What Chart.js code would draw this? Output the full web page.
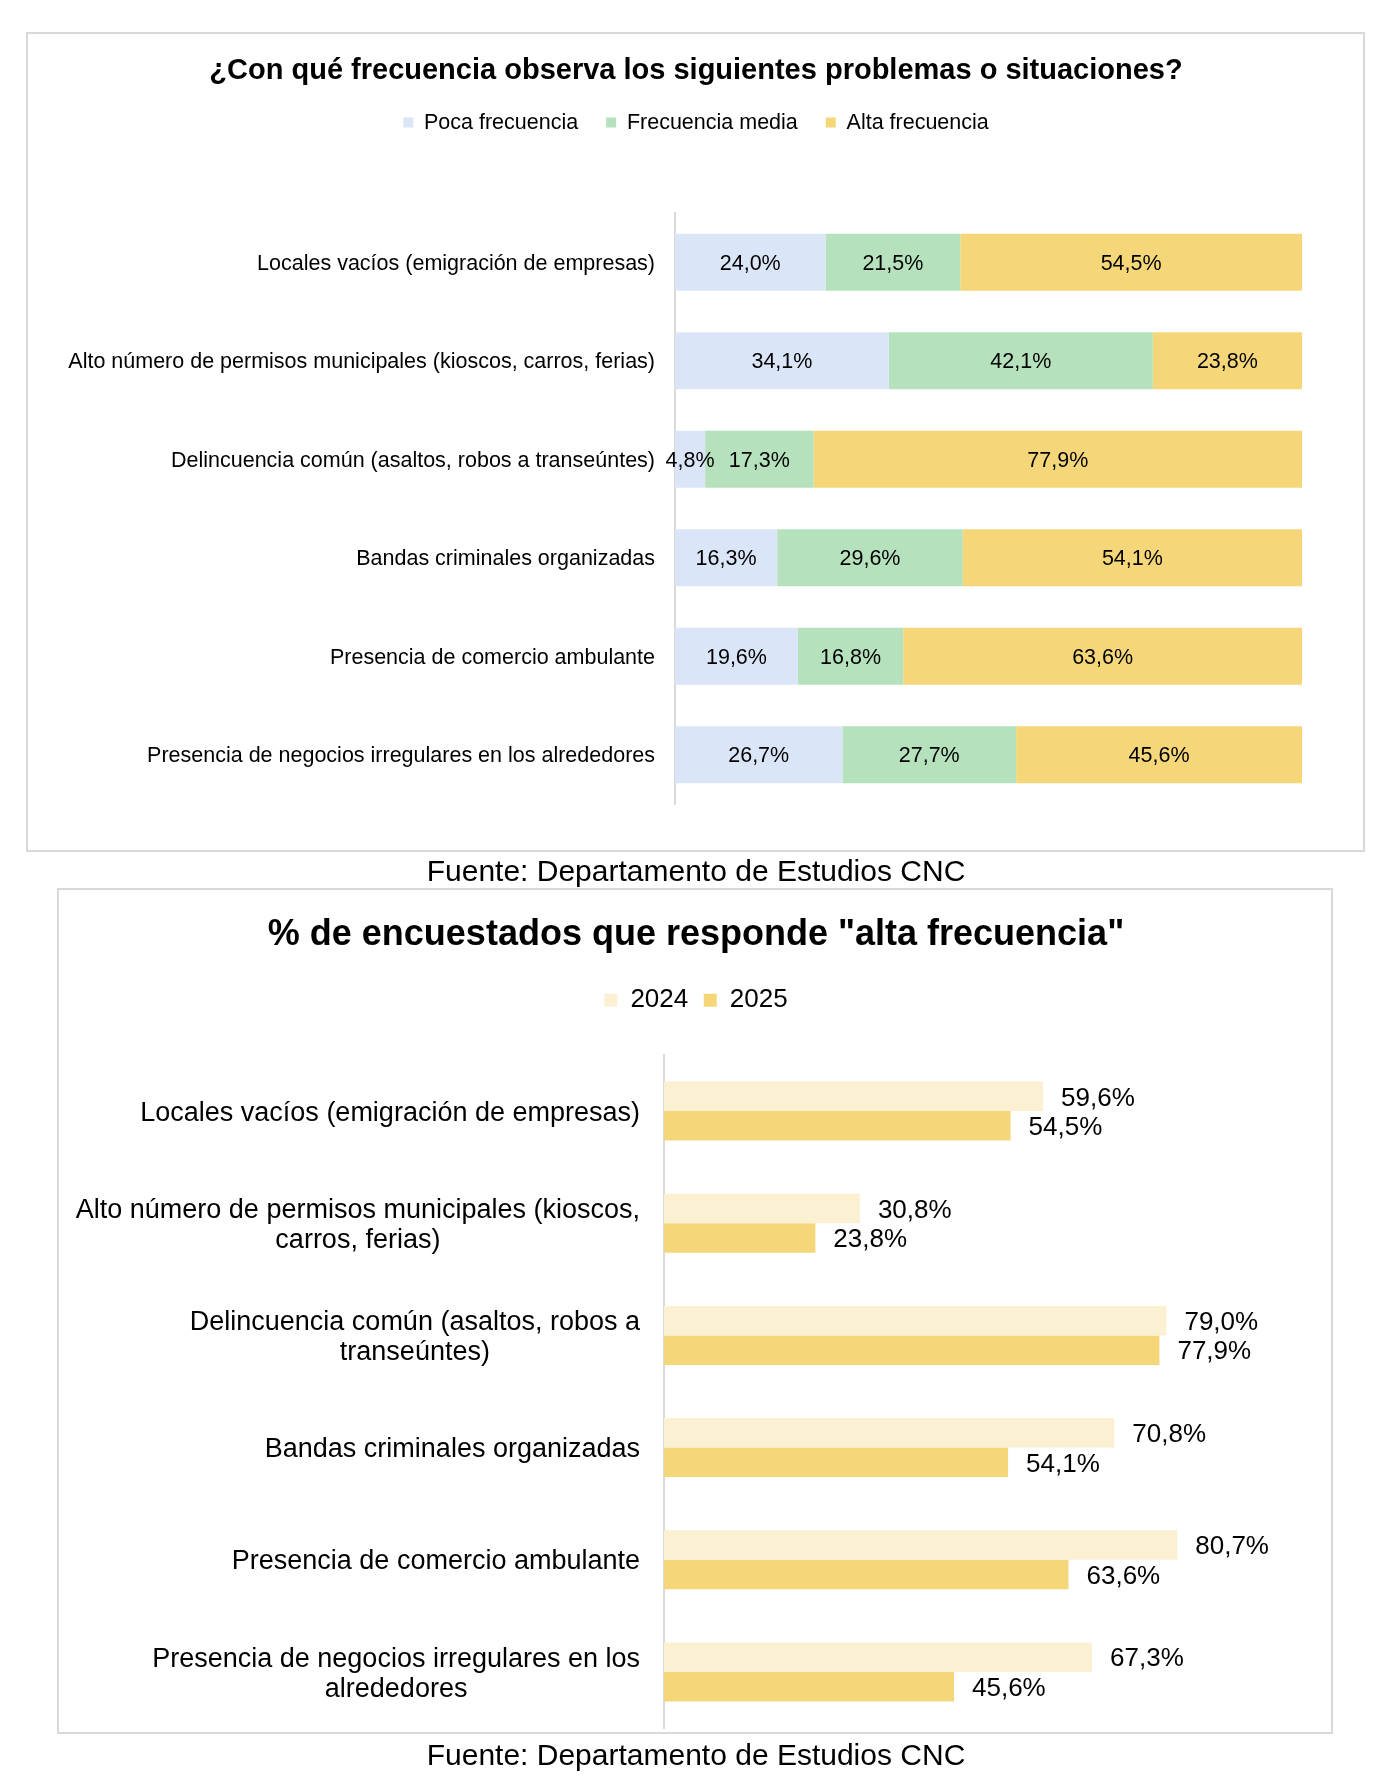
<!DOCTYPE html>
<html>
<head>
<meta charset="utf-8">
<script src="https://cdn.jsdelivr.net/npm/chart.js@4.4.1/dist/chart.umd.min.js"></script>
<style>
    body { margin: 0; background: #fff; font-family: "Liberation Sans", Arial, sans-serif; }
    .page { position: relative; width: 1392px; height: 1788px; overflow: hidden; }
    .box { position: absolute; box-sizing: border-box; border: 2px solid #d9d9d9; }
    .source { position: absolute; left: 0; width: 1392px; text-align: center; font-size: 30px; line-height: 30px; color: #000; }
    canvas { position: absolute; left: 0; }
</style>
</head>
<body>
<div class="page">
    <div class="box" style="left:26px; top:32px; width:1339px; height:820px;"></div>
    <div class="box" style="left:57px; top:888px; width:1276px; height:846px;"></div>
    <canvas id="freqChart" width="1392" height="856" style="top:0px;"></canvas>
    <div class="source" style="top:856px;">Fuente: Departamento de Estudios CNC</div>
    <canvas id="altaChart" width="1392" height="902" style="top:886px;"></canvas>
    <div class="source" style="top:1740px;">Fuente: Departamento de Estudios CNC</div>
</div>
<script>
//Data
const problems = [
    "Locales vacíos (emigración de empresas)",
    "Alto número de permisos municipales (kioscos, carros, ferias)",
    "Delincuencia común (asaltos, robos a transeúntes)",
    "Bandas criminales organizadas",
    "Presencia de comercio ambulante",
    "Presencia de negocios irregulares en los alrededores",
];
const problemsWrapped = [
    ["Locales vacíos (emigración de empresas)"],
    ["Alto número de permisos municipales (kioscos,", "carros, ferias)"],
    ["Delincuencia común (asaltos, robos a", "transeúntes)"],
    ["Bandas criminales organizadas"],
    ["Presencia de comercio ambulante"],
    ["Presencia de negocios irregulares en los", "alrededores"],
];
const pocaFrecuencia = [24.0, 34.1, 4.8, 16.3, 19.6, 26.7];
const frecuenciaMedia = [21.5, 42.1, 17.3, 29.6, 16.8, 27.7];
const altaFrecuencia = [54.5, 23.8, 77.9, 54.1, 63.6, 45.6];
const alta2024 = [59.6, 30.8, 79.0, 70.8, 80.7, 67.3];
const alta2025 = [54.5, 23.8, 77.9, 54.1, 63.6, 45.6];

const FONT = '"Liberation Sans", Arial, sans-serif';
const BLUE = "#dbe5f8";
const GREEN = "#b5e2bd";
const YELLOW = "#f5d77a";
const PALE = "#fcf0d2";

//Function formats a value as "54,5%"
const pct = (v) => v.toFixed(1).replace(".", ",") + "%";

//Capital letters are centered on the given y (baseline = y + half cap height)
const capShift = (size) => size * 0.358;

//Plugin draws the value of every bar, centered inside or just after its end
const valueLabels = {
    id: "valueLabels",
    afterDatasetsDraw(chart, args, opts) {
        const ctx = chart.ctx;
        ctx.save();
        ctx.font = opts.size + "px " + FONT;
        ctx.fillStyle = "#000";
        ctx.textBaseline = "alphabetic";
        chart.data.datasets.forEach((ds, di) => {
            chart.getDatasetMeta(di).data.forEach((bar, i) => {
                const txt = pct(ds.data[i]);
                const y = bar.y + capShift(opts.size);
                if (opts.inside) {
                    ctx.textAlign = "center";
                    ctx.fillText(txt, (bar.x + bar.base) / 2, y);
                } else {
                    ctx.textAlign = "left";
                    ctx.fillText(txt, bar.x + opts.offset, y);
                }
            });
        });
        ctx.restore();
    },
};

//Plugin draws category names left of the axis; extra lines are centered on the longest one
const categoryLabels = {
    id: "categoryLabels",
    afterDraw(chart, args, opts) {
        const ctx = chart.ctx;
        const scale = chart.scales.y;
        const right = chart.chartArea.left - opts.gap;
        ctx.save();
        ctx.font = opts.size + "px " + FONT;
        ctx.fillStyle = "#000";
        ctx.textBaseline = "alphabetic";
        chart.data.labels.forEach((label, i) => {
            const lines = Array.isArray(label) ? label : [label];
            const maxW = Math.max(...lines.map((l) => ctx.measureText(l).width));
            const yMid = scale.getPixelForValue(i);
            lines.forEach((line, li) => {
                const y = yMid + (li - (lines.length - 1) / 2) * opts.lineHeight + capShift(opts.size);
                if (lines.length === 1) {
                    ctx.textAlign = "right";
                    ctx.fillText(line, right, y);
                } else {
                    ctx.textAlign = "center";
                    ctx.fillText(line, right - maxW / 2, y);
                }
            });
        });
        ctx.restore();
    },
};

//Function builds the shared axes: hidden value axis on top (used as spacer),
//category axis with only its line, and an empty right axis for the right margin
const makeScales = (leftWidth, rightWidth, topGap, stacked) => ({
    x: {
        position: "top",
        min: 0,
        max: 100,
        stacked: stacked,
        ticks: { display: false },
        grid: { display: false, drawTicks: false },
        border: { display: false },
        afterFit: (s) => { s.height = topGap; },
    },
    y: {
        stacked: stacked,
        ticks: { display: false },
        grid: { display: false, drawTicks: false },
        border: { display: true, color: "#d9d9d9", width: 2 },
        afterFit: (s) => { s.width = leftWidth; },
    },
    yRight: {
        axis: "y",
        type: "category",
        position: "right",
        ticks: { display: false },
        grid: { display: false, drawTicks: false },
        border: { display: false },
        afterFit: (s) => { s.width = rightWidth; },
    },
});

//Top chart: stacked frequency bars
new Chart(document.getElementById("freqChart"), {
    type: "bar",
    data: {
        labels: problems,
        datasets: [
            { label: "Poca frecuencia", data: pocaFrecuencia, backgroundColor: BLUE },
            { label: "Frecuencia media", data: frecuenciaMedia, backgroundColor: GREEN },
            { label: "Alta frecuencia", data: altaFrecuencia, backgroundColor: YELLOW },
        ],
    },
    options: {
        indexAxis: "y",
        responsive: false,
        animation: false,
        layout: { padding: { top: 0, bottom: 52, left: 0, right: 0 } },
        datasets: { bar: { categoryPercentage: 1, barPercentage: 0.58 } },
        scales: makeScales(675, 90, 69.65, true),
        plugins: {
            title: {
                display: true,
                text: "¿Con qué frecuencia observa los siguientes problemas o situaciones?",
                color: "#000",
                font: { family: FONT, size: 29, weight: "bold", lineHeight: 1.2 },
                padding: { top: 53.1, bottom: -4.05 },
            },
            legend: {
                display: true,
                labels: {
                    color: "#000",
                    font: { family: FONT, size: 21.5 },
                    boxWidth: 10,
                    boxHeight: 10,
                    padding: 28,
                },
            },
            tooltip: { enabled: false },
            valueLabels: { size: 21.5, inside: true },
            categoryLabels: { size: 21.5, gap: 20, lineHeight: 25 },
        },
    },
    plugins: [valueLabels, categoryLabels],
});

//Bottom chart: "alta frecuencia" 2024 vs 2025
new Chart(document.getElementById("altaChart"), {
    type: "bar",
    data: {
        labels: problemsWrapped,
        datasets: [
            { label: "2024", data: alta2024, backgroundColor: PALE },
            { label: "2025", data: alta2025, backgroundColor: YELLOW },
        ],
    },
    options: {
        indexAxis: "y",
        responsive: false,
        animation: false,
        layout: { padding: { top: 0, bottom: 60, left: 0, right: 0 } },
        datasets: { bar: { categoryPercentage: 0.526, barPercentage: 1 } },
        scales: makeScales(664, 92, 31.7, false),
        plugins: {
            title: {
                display: true,
                text: '% de encuestados que responde "alta frecuencia"',
                color: "#000",
                font: { family: FONT, size: 36, weight: "bold", lineHeight: 1.2 },
                padding: { top: 27.4, bottom: 15.2 },
            },
            legend: {
                display: true,
                labels: {
                    color: "#000",
                    font: { family: FONT, size: 26 },
                    boxWidth: 13,
                    boxHeight: 13,
                    padding: 15.5,
                },
            },
            tooltip: { enabled: false },
            valueLabels: { size: 26, inside: false, offset: 18 },
            categoryLabels: { size: 27, gap: 24, lineHeight: 30 },
        },
    },
    plugins: [valueLabels, categoryLabels],
});
</script>
</body>
</html>
